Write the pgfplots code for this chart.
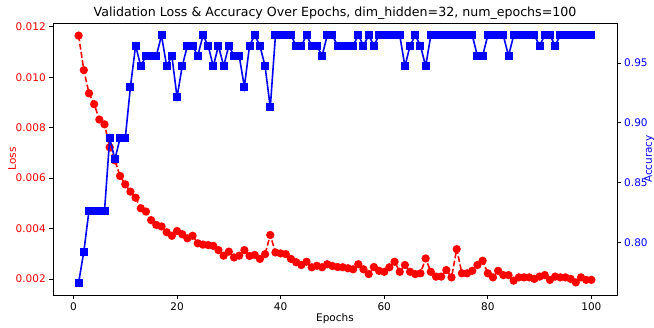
\documentclass[border=0pt]{standalone}
\usepackage{pgfplots}
\pgfplotsset{compat=1.18}
\usepackage{pgfplotstable}
\usepackage{fontspec}
\setmainfont{DejaVu Sans}
\pgfplotstableread{
epoch loss acc
1 0.01165 0.7666
2 0.01028 0.7924
3 0.00936 0.8268
4 0.00893 0.8268
5 0.00832 0.8268
6 0.00813 0.8268
7 0.00722 0.8870
8 0.00670 0.8698
9 0.00608 0.8870
10 0.00575 0.8870
11 0.00546 0.9300
12 0.00522 0.9644
13 0.00480 0.9472
14 0.00467 0.9558
15 0.00433 0.9558
16 0.00414 0.9558
17 0.00408 0.9730
18 0.00385 0.9472
19 0.00371 0.9558
20 0.00390 0.9214
21 0.00377 0.9472
22 0.00361 0.9644
23 0.00371 0.9644
24 0.00341 0.9558
25 0.00336 0.9730
26 0.00334 0.9644
27 0.00331 0.9472
28 0.00314 0.9644
29 0.00292 0.9472
30 0.00308 0.9644
31 0.00285 0.9558
32 0.00292 0.9558
33 0.00314 0.9300
34 0.00291 0.9644
35 0.00295 0.9730
36 0.00279 0.9644
37 0.00298 0.9472
38 0.00374 0.9128
39 0.00305 0.9730
40 0.00301 0.9730
41 0.00298 0.9730
42 0.00279 0.9730
43 0.00266 0.9644
44 0.00255 0.9644
45 0.00268 0.9730
46 0.00246 0.9644
47 0.00252 0.9644
48 0.00246 0.9558
49 0.00258 0.9730
50 0.00251 0.9730
51 0.00247 0.9644
52 0.00246 0.9644
53 0.00242 0.9644
54 0.00238 0.9644
55 0.00258 0.9730
56 0.00238 0.9644
57 0.00219 0.9730
58 0.00247 0.9644
59 0.00232 0.9730
60 0.00228 0.9730
61 0.00246 0.9730
62 0.00268 0.9730
63 0.00228 0.9730
64 0.00255 0.9472
65 0.00228 0.9644
66 0.00219 0.9730
67 0.00222 0.9644
68 0.00281 0.9472
69 0.00228 0.9730
70 0.00209 0.9730
71 0.00209 0.9730
72 0.00235 0.9730
73 0.00206 0.9730
74 0.00318 0.9730
75 0.00222 0.9730
76 0.00222 0.9730
77 0.00232 0.9730
78 0.00255 0.9558
79 0.00272 0.9558
80 0.00222 0.9730
81 0.00206 0.9730
82 0.00232 0.9730
83 0.00215 0.9730
84 0.00215 0.9558
85 0.00193 0.9730
86 0.00206 0.9730
87 0.00206 0.9730
88 0.00206 0.9730
89 0.00200 0.9730
90 0.00209 0.9644
91 0.00215 0.9730
92 0.00196 0.9730
93 0.00209 0.9644
94 0.00206 0.9730
95 0.00206 0.9730
96 0.00200 0.9730
97 0.00186 0.9730
98 0.00206 0.9730
99 0.00196 0.9730
100 0.00196 0.9730
}\datatable
\begin{document}
\begin{tikzpicture}
\pgfplotsset{
  every axis/.append style={
    scale only axis, width=564pt, height=272pt,
    xmin=-3.95, xmax=104.95,
    tick align=outside, major tick length=3.7pt,
    tick style={black, line width=0.7pt},
    /pgf/number format/assume math mode=true,
    tick label style={font=\fontsize{10.5}{12.5}\selectfont},
    label style={font=\fontsize{10.5}{12.5}\selectfont},
  }
}
\begin{axis}[
  name=ax,
  ymin=0.00136, ymax=0.01215,
  xtick={0,20,40,60,80,100},
  ytick={0.002,0.004,0.006,0.008,0.010,0.012},
  xtick pos=bottom, ytick pos=left,
  scaled y ticks=false,
  yticklabel style={red, /pgf/number format/.cd, fixed, fixed zerofill, precision=3},
  xlabel={Epochs},
  xlabel style={at={(axis description cs:0.5,-0.088)}, anchor=center},
  ylabel={Loss},
  ylabel style={red, at={(axis description cs:-0.0727,0.5)}, anchor=center},
  axis line style={black, line width=0.85pt},
]
\addplot[red, line width=1.6pt, dash pattern=on 5.8pt off 2.5pt, mark=*, mark size=3.3pt, mark options={solid, fill=red, draw=red}]
  table[x=epoch, y=loss] {\datatable};
\end{axis}
\begin{axis}[
  ymin=0.7563, ymax=0.9833,
  hide x axis,
  axis y line*=right,
  ytick={0.80,0.85,0.90,0.95},
  yticklabel style={blue, /pgf/number format/.cd, fixed, fixed zerofill, precision=2},
  ylabel={Accuracy},
  ylabel style={blue, at={(axis description cs:1.057,0.5)}, anchor=center, rotate=0},
  axis line style={black, line width=0.85pt},
]
\addplot[blue, line width=1.6pt, mark=square*, mark size=3.2pt, mark options={fill=blue, draw=blue}]
  table[x=epoch, y=acc] {\datatable};
\end{axis}
\node[font=\fontsize{12.6}{15}\selectfont, anchor=base, inner sep=0pt] at ([yshift=6.5pt]ax.north) {Validation Loss \& Accuracy Over Epochs, dim\_hidden=32, num\_epochs=100};
\pgfresetboundingbox
\path[use as bounding box] ([xshift=-53pt,yshift=-32pt]ax.south west) rectangle ([xshift=37pt,yshift=23pt]ax.north east);
\end{tikzpicture}
\end{document}
